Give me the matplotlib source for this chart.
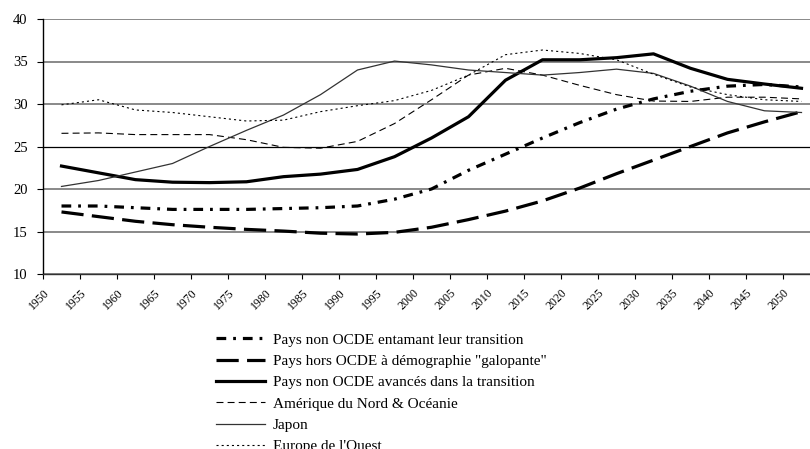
import matplotlib
matplotlib.use('Agg')
import matplotlib.pyplot as plt
import numpy as np

# 5-year periods, points plotted at mid-period
years = [1952.5 + 5 * k for k in range(21)]

entamant = [18.0, 18.0, 17.8, 17.6, 17.6, 17.6, 17.7, 17.8, 18.0, 18.8, 20.0,
            22.2, 24.1, 26.0, 27.8, 29.4, 30.6, 31.5, 32.1, 32.3, 32.0]
galopante = [17.3, 16.75, 16.2, 15.8, 15.5, 15.25, 15.05, 14.8, 14.7, 14.9, 15.5,
             16.4, 17.4, 18.6, 20.1, 21.8, 23.4, 25.0, 26.6, 27.9, 29.1]
avances = [22.7, 21.9, 21.1, 20.8, 20.75, 20.85, 21.45, 21.75, 22.3, 23.8, 26.0,
           28.5, 32.8, 35.2, 35.2, 35.45, 35.9, 34.2, 32.9, 32.35, 31.85]
amerique = [26.55, 26.6, 26.4, 26.4, 26.4, 25.8, 24.9, 24.8, 25.6, 27.7, 30.5,
            33.4, 34.2, 33.4, 32.2, 31.1, 30.35, 30.3, 30.8, 30.8, 30.6]
japon = [20.3, 21.0, 22.0, 23.0, 25.0, 26.9, 28.7, 31.1, 34.0, 35.05, 34.6,
         34.0, 33.7, 33.4, 33.7, 34.1, 33.6, 32.1, 30.3, 29.2, 29.0]
europe = [29.9, 30.5, 29.3, 29.0, 28.5, 28.0, 28.1, 29.1, 29.8, 30.4, 31.6,
          33.4, 35.8, 36.35, 35.95, 35.2, 33.5, 32.0, 31.1, 30.5, 30.3]

labels = ['Pays non OCDE entamant leur transition',
          'Pays hors OCDE à démographie "galopante"',
          'Pays non OCDE avancés dans la transition',
          'Amérique du Nord & Océanie',
          'Japon',
          "Europe de l'Ouest"]

xticks = list(range(1950, 2051, 5))
yticks = list(range(10, 41, 5))

plt.rcParams['font.family'] = ['Liberation Serif', 'DejaVu Serif']
plt.rcParams['lines.scale_dashes'] = False

fig = plt.figure(figsize=(8.10, 4.49), dpi=100)
ax = fig.add_axes([43 / 810, 1 - 274 / 449, 767 / 810, 255 / 449])

ax.plot(years, entamant, color='black', lw=2.3, dashes=(7, 5, 2, 5),
        dash_capstyle='butt', label=labels[0])
ax.plot(years, galopante, color='black', lw=2.3, dashes=(16, 6),
        dash_capstyle='butt', label=labels[1])
ax.plot(years, avances, color='black', lw=2.3, label=labels[2])
ax.plot(years, amerique, color='black', lw=0.8, dashes=(5, 3), label=labels[3])
ax.plot(years, japon, color='#333333', lw=0.9, label=labels[4])
ax.plot(years, europe, color='black', lw=0.8, dashes=(1.5, 2.2), label=labels[5])

ax.set_xlim(1950, 1950 + 767 / 7.4)
ax.set_ylim(10, 40)
ax.set_xticks(xticks)
ax.set_yticks(yticks)
ax.set_xticklabels([str(x) for x in xticks], rotation=45, ha='right',
                   rotation_mode='anchor', fontsize=8.5)
ax.set_yticklabels([str(y) for y in yticks], fontsize=10.5)
ax.tick_params(axis='y', length=4, width=0.8, pad=7)
ax.tick_params(axis='x', length=3.5, width=0.8, pad=6)

ax.yaxis.grid(True, color='#808080', lw=1.3)
for val, gl in zip(yticks, ax.get_ygridlines()):
    if val == 25:
        gl.set_color('black')
        gl.set_linewidth(0.9)
ax.set_axisbelow(True)

for side in ['top', 'right']:
    ax.spines[side].set_visible(False)
ax.spines['left'].set_linewidth(1.0)
ax.spines['bottom'].set_linewidth(1.0)
ax.spines['bottom'].set_color('#333333')

fig.legend(loc='upper left', bbox_to_anchor=(216 / 810, 1 - 333 / 449),
           frameon=False, fontsize=11, handlelength=3.2, handletextpad=0.5,
           labelspacing=0.5, borderpad=0, borderaxespad=0)

fig.savefig('out.png', dpi=100)
